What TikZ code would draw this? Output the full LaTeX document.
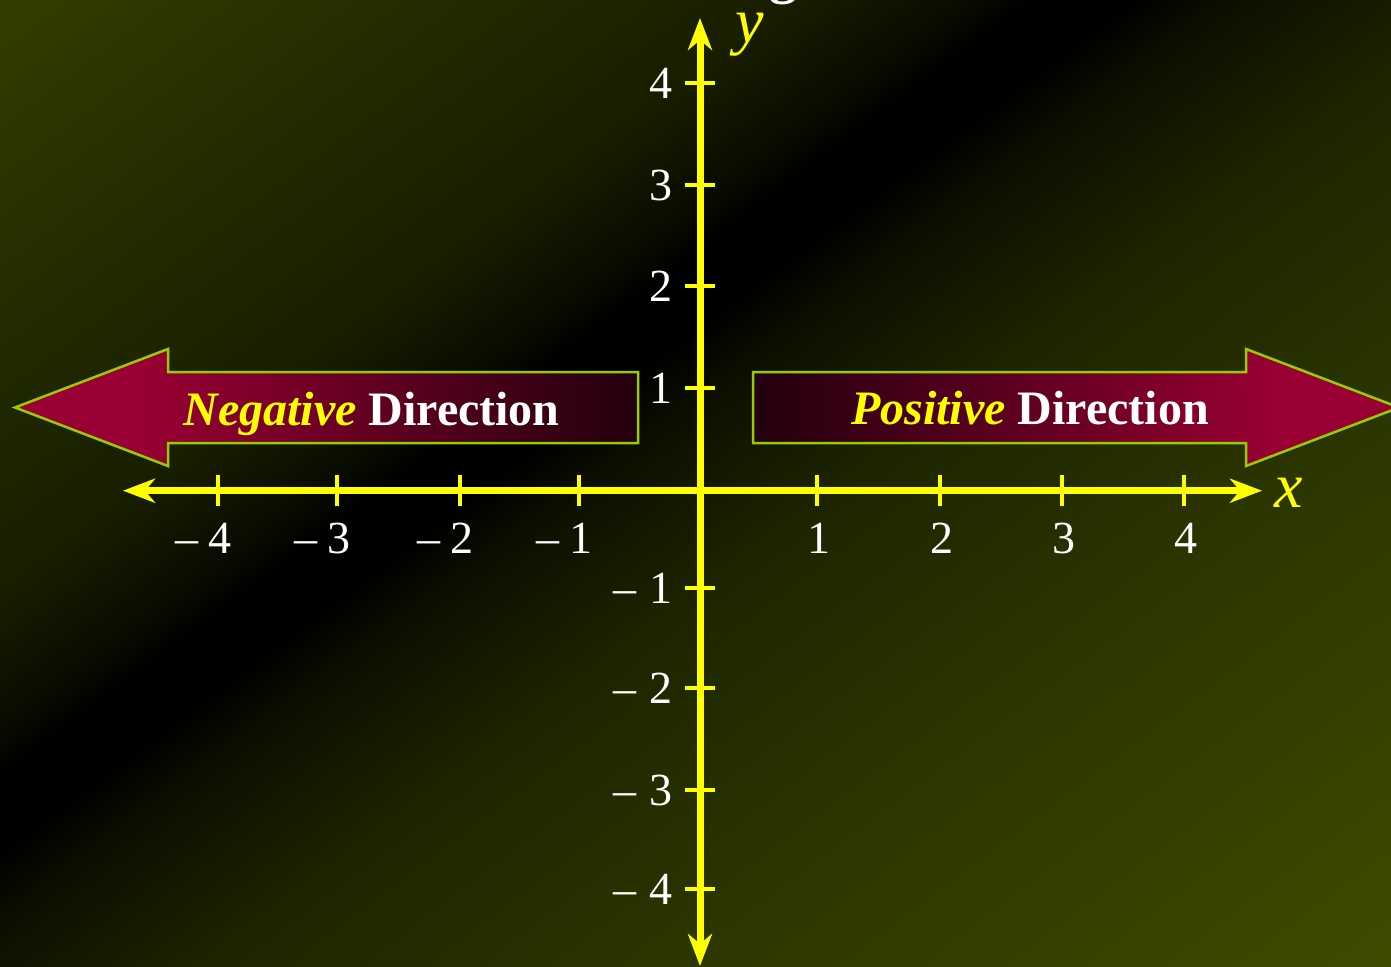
\documentclass[tikz,border=0pt]{standalone}
\usepackage{fontspec}
\setmainfont{Liberation Serif}
\usetikzlibrary{arrows.meta}
\definecolor{bg0}{RGB}{50,62,0}
\definecolor{bg1}{RGB}{32,40,0}
\definecolor{bg2}{RGB}{24,30,0}
\definecolor{bg3}{RGB}{8,10,0}
\definecolor{bg4}{RGB}{12,15,0}
\definecolor{bg5}{RGB}{30,38,0}
\definecolor{bg6}{RGB}{44,54,0}
\definecolor{bg7}{RGB}{62,76,0}
\definecolor{crim}{RGB}{153,0,51}
\definecolor{darkc}{RGB}{35,0,14}
\definecolor{lime}{RGB}{153,204,0}
\definecolor{axisyellow}{RGB}{255,255,0}
\pgfdeclarehorizontalshading{bgshade}{100bp}{color(0bp)=(bg0); color(27.77bp)=(bg0); color(36.56bp)=(bg1); color(40.93bp)=(bg2); color(44.08bp)=(bg3); color(44.91bp)=(black); color(46.57bp)=(black); color(48.23bp)=(bg4); color(52.88bp)=(bg5); color(60.15bp)=(bg6); color(72.24bp)=(bg7); color(100bp)=(bg7)}
\pgfdeclarehorizontalshading{negshade}{100bp}{color(0bp)=(crim); color(35bp)=(crim); color(75bp)=(darkc); color(100bp)=(darkc)}
\pgfdeclarehorizontalshading{posshade}{100bp}{color(0bp)=(darkc); color(25bp)=(darkc); color(65.5bp)=(crim); color(100bp)=(crim)}
\newcommand{\negnum}[1]{\llap{–\kern13pt}#1}
\newcommand{\negnumx}[1]{\llap{–\kern10pt}#1}
\tikzset{
  axisline/.style={line width=7pt, draw=axisyellow, {Stealth[length=32pt,width=24pt,inset=10pt]}-{Stealth[length=32pt,width=24pt,inset=10pt]}},
  tickmark/.style={line width=4.5pt, draw=axisyellow},
  numlab/.style={text=white, inner sep=0pt, font=\fontsize{46}{50}\selectfont},
  dirbox/.style={draw=lime, line width=2.5pt},
  dirtext/.style={inner sep=0pt, font=\fontsize{48}{56}\selectfont\bfseries, text=white, anchor=base},
  axislab/.style={inner sep=0pt, text=axisyellow, font=\fontsize{64}{70}\selectfont\itshape, anchor=base},
}
\begin{document}
\begin{tikzpicture}[x=1pt,y=-1pt]
\useasboundingbox (0,0) rectangle (1391,966);
% background
\begin{scope}
  \clip (0,0) rectangle (1391,966);
  \begin{scope}[transform canvas={rotate=-53.04}]
    \shade[shading=bgshade] (-100,-2500) rectangle (1708,2500);
  \end{scope}
\end{scope}
% partial title glyph
\node[inner sep=0pt, text=white, font=\fontsize{56}{60}\selectfont\bfseries, anchor=base] (title) at (783,-7) {g};
% direction arrows
\shadedraw[shading=negshade, dirbox] (15,407.5) -- (168,349) -- (168,372) -- (638,372) -- (638,443) -- (168,443) -- (168,466) -- cycle;
\shadedraw[shading=posshade, dirbox] (1399,407.5) -- (1246,349) -- (1246,372) -- (753,372) -- (753,443) -- (1246,443) -- (1246,466) -- cycle;
\node[dirtext] (neg) at (371.5,425) {\textcolor{axisyellow}{\itshape Negative} Direction};
\node[dirtext] (pos) at (1030,424) {\textcolor{axisyellow}{\itshape Positive} Direction};
% axes
\coordinate (xL) at (123,490.7);
\coordinate (xR) at (1262,490.7);
\coordinate (yB) at (700,966);
\coordinate (yT) at (700,18);
\draw[axisline] (xL) -- (xR);
\draw[axisline] (yB) -- (yT);
% x ticks and labels
\foreach \xx/\lab/\nm in {218/\negnumx{4}/m4, 337/\negnumx{3}/m3, 460/\negnumx{2}/m2, 579/\negnumx{1}/m1, 817/1/p1, 940/2/p2, 1062/3/p3, 1184/4/p4} {
  \draw[tickmark] (\xx,475) -- (\xx,506);
  \node[numlab, anchor=base] (xl\nm) at (\xx+2,553) {\lab};
}
% y ticks and labels
\foreach \yy/\lab/\nm in {83/4/p4, 185/3/p3, 286/2/p2, 388/1/p1, 588/\negnum{1}/m1, 688/\negnum{2}/m2, 790/\negnum{3}/m3, 889/\negnum{4}/m4} {
  \draw[tickmark] (685,\yy) -- (715,\yy);
  \node[numlab, anchor=east] (yl\nm) at (673,\yy) {\lab};
}
\draw[tickmark] (685,490.7) -- (715,490.7);
% axis labels
\node[axislab] (xlab) at (1289,507) {x};
\node[axislab] (ylab) at (750,43) {y};
\end{tikzpicture}
\end{document}
